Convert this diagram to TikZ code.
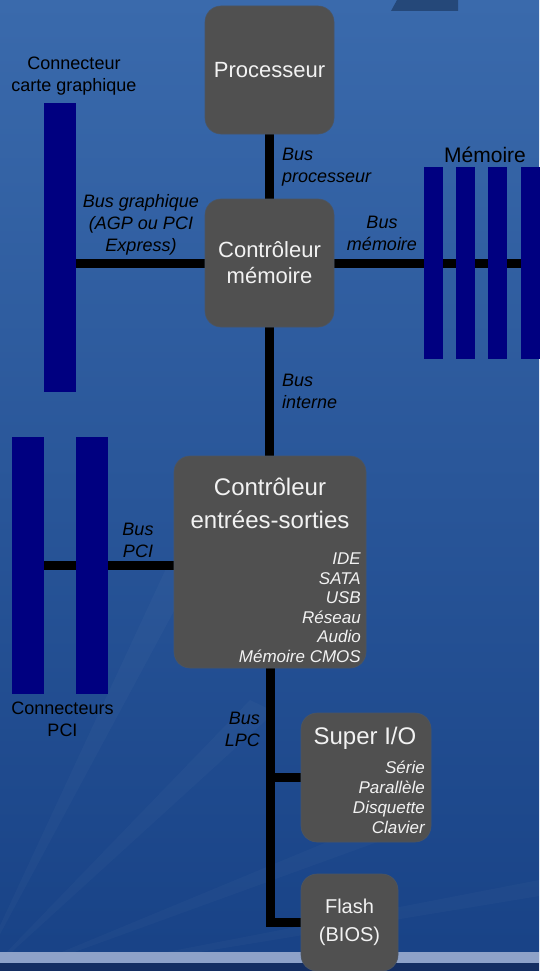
\documentclass[tikz,border=0pt]{standalone}
\usepackage{fontspec}
\setmainfont{Liberation Sans}
\usetikzlibrary{positioning, calc, backgrounds}
\definecolor{fondhaut}{RGB}{58,106,172}
\definecolor{fondbas}{RGB}{24,66,134}
\definecolor{puce}{RGB}{80,80,80}
\definecolor{texteclair}{RGB}{242,242,242}
\definecolor{slotbleu}{RGB}{0,0,128}
\definecolor{bandeclair}{RGB}{142,162,200}
\definecolor{bandesombre}{RGB}{20,46,98}
\definecolor{coin}{RGB}{37,72,121}
\tikzstyle{chip} = [rectangle, rounded corners=16pt, fill=puce, draw=puce!80!fondhaut, line width=0.6pt, text=texteclair, align=center, inner sep=0pt, font=\fontsize{22}{26}\selectfont]
\tikzstyle{slot} = [rectangle, fill=slotbleu, inner sep=0pt]
\tikzstyle{bus} = [line width=9pt, black]
\tikzstyle{buslabel} = [inner sep=0pt, align=center, font=\fontsize{18}{22}\selectfont\itshape]
\tikzstyle{caption} = [inner sep=0pt, align=center, font=\fontsize{18}{22}\selectfont]
\tikzstyle{features} = [inner sep=0pt, align=right, text=texteclair, font=\fontsize{17}{19.5}\selectfont\itshape]
\begin{document}
\begin{tikzpicture}[x=1pt, y=-1pt]
    \useasboundingbox (0,0) rectangle (539,971);
    % puces
    \node (cpu) [chip, minimum width=129pt, minimum height=128pt] at (269.5,70) {Processeur};
    \node (ctrlmem) [chip, minimum width=129pt, minimum height=128pt] at (269.5,263) {Contrôleur\\mémoire};
    \node (io) [chip, minimum width=192pt, minimum height=212pt] at (270,562) {};
    \node (iotitle) [text=texteclair, align=center, inner sep=0pt, font=\fontsize{24}{33}\selectfont] at (270,503) {Contrôleur\\entrées-sorties};
    \node (iolist) [features, anchor=north east] at (361,553) {IDE\\SATA\\USB\\Réseau\\Audio\\Mémoire CMOS};
    \node (sio) [chip, minimum width=130pt, minimum height=129pt] at (366,777.5) {};
    \node (siotitle) [text=texteclair, inner sep=0pt, font=\fontsize{24}{28}\selectfont] at (365,738) {Super I/O};
    \node (siolist) [features, anchor=north east, font=\fontsize{17}{20}\selectfont\itshape] at (425,761) {Série\\Parallèle\\Disquette\\Clavier};
    \node (flash) [chip, minimum width=97pt, minimum height=97pt, font=\fontsize{20}{28}\selectfont] at (349.5,922.5) {Flash\\(BIOS)};

    % connecteurs
    \node (gfx) [slot, minimum width=32pt, minimum height=289pt] at (60,247.5) {};
    \node (pci1) [slot, minimum width=32pt, minimum height=257pt] at (28,565.5) {};
    \node (pci2) [slot, minimum width=32pt, minimum height=257pt] at (92,565.5) {};
    \foreach \i in {1,...,4} {
        \node (mem\i) [slot, minimum width=19pt, minimum height=192pt] at ({433.5+32.2*(\i-1)},263) {};
    }

    % textes
    \node (gfxname) [caption] at (74,76) {Connecteur\\carte graphique};
    \node (memname) [caption, font=\fontsize{21}{24}\selectfont] at (485,155) {Mémoire};
    \node (pciname) [caption] at (62.5,719) {Connecteurs\\PCI};
    \node (lblcpu) [buslabel, align=left, anchor=west] at (282,167) {Bus\\processeur};
    \node (lblgfx) [buslabel] at (141,225) {Bus graphique\\(AGP ou PCI\\Express)};
    \node (lblmem) [buslabel] at (382,233) {Bus\\mémoire};
    \node (lblint) [buslabel, align=left, anchor=west] at (282,391) {Bus\\interne};
    \node (lblpci) [buslabel] at (138,540) {Bus\\PCI};
    \node (lbllpc) [buslabel, align=right, anchor=east] at (260,729) {Bus\\LPC};

    \begin{scope}[on background layer]
        \shade[top color=fondhaut, bottom color=fondbas] (0,0) rectangle (539,971);
        \foreach \a/\b in {170/560, 250/700, 380/820, 539/880} {
            \fill[white, opacity=0.025] (-30,990) -- (\a,\b) -- (\a+25,\b+12) -- cycle;
        }
        \fill[coin] (391,11) -- (397,0) -- (458,0) -- (458,11) -- cycle;
        \fill[bandeclair] (0,952) rectangle (539,963);
        \fill[bandesombre] (0,963) rectangle (539,971);
        % bus
        \draw[bus] (cpu.south) -- (ctrlmem.north);
        \draw[bus] (ctrlmem.south) -- (ctrlmem.south |- io.north);
        \draw[bus] (ctrlmem.west) -- (ctrlmem.west -| gfx.center);
        \draw[bus] (ctrlmem.east) -- (ctrlmem.east -| mem4.center);
        \draw[bus] ([yshift=-3.5pt]io.west) -- ([yshift=-3.5pt]io.west -| pci1.center);
        \draw[bus, line join=miter] (io.south) |- (flash.west);
        \draw[bus] (io.south |- sio.west) -- (sio.west);
    \end{scope}
\end{tikzpicture}
\end{document}
